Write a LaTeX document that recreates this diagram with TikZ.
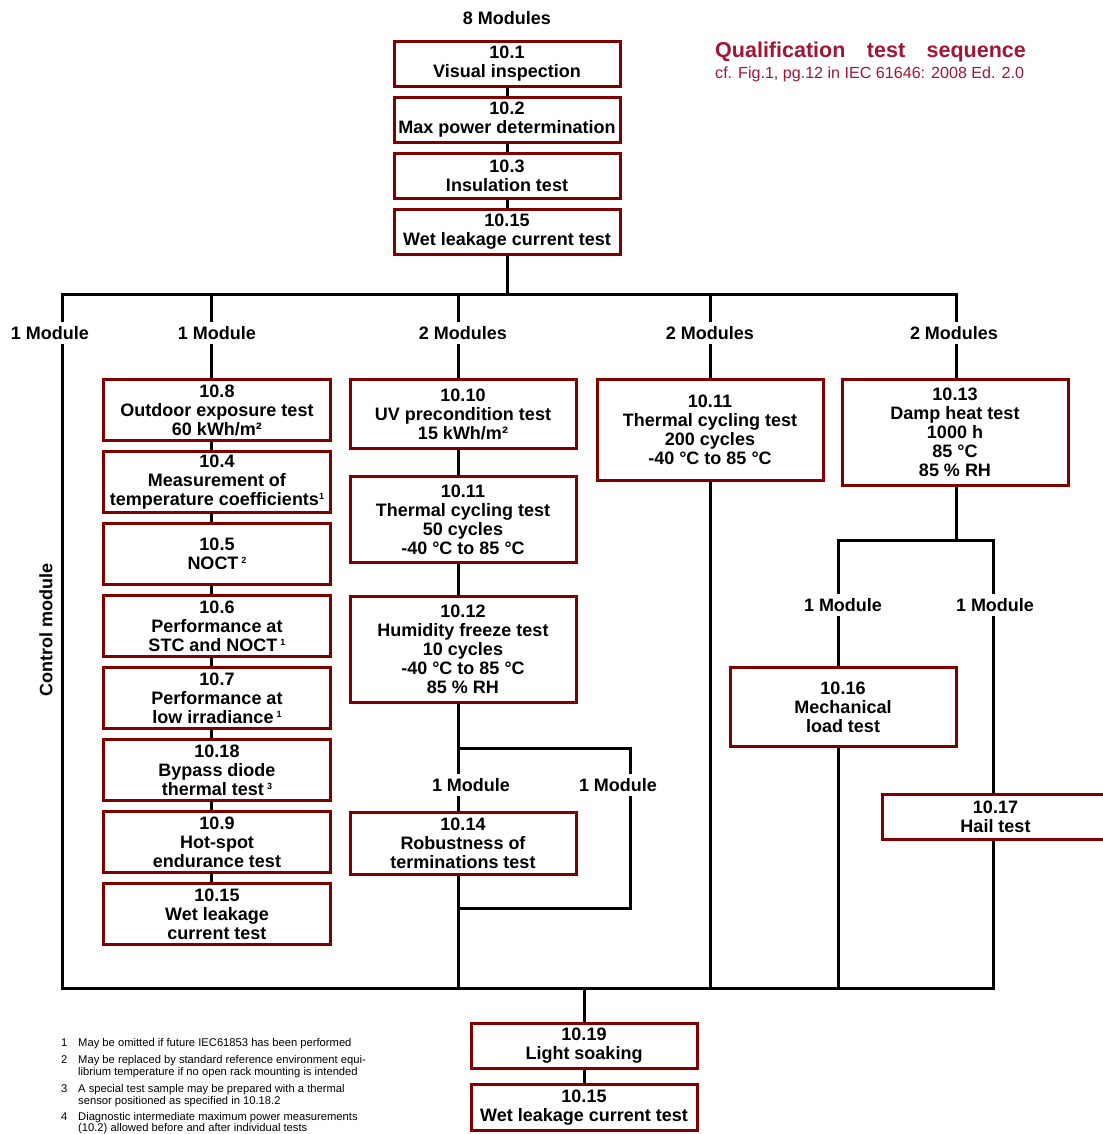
\documentclass[tikz,border=0pt]{standalone}
\usepackage{fontspec}
\setmainfont{Liberation Sans}
\usetikzlibrary{positioning,calc}
\pgfdeclarelayer{background}
\pgfsetlayers{background,main}
\definecolor{boxred}{RGB}{128,0,0}
\definecolor{titlered}{RGB}{160,22,52}
\newcommand{\refmark}[1]{\raisebox{6bp}{\fontsize{9bp}{9bp}\selectfont #1}}
\tikzset{
    testbox/.style={
        rectangle,
        draw=boxred, line width=3bp,
        fill=white,
        minimum width=226bp,
        inner sep=0pt,
        align=center,
        font={\fontsize{18bp}{19bp}\selectfont\bfseries}
    },
    modlabel/.style={
        fill=white, inner sep=4bp,
        font={\fontsize{18bp}{19bp}\selectfont\bfseries}
    },
    line/.style={draw, line width=3bp, line cap=rect},
    fnnum/.style={anchor=base west, inner sep=0pt,
        font={\fontsize{11.2bp}{12.5bp}\selectfont}},
    fntext/.style={anchor=base west, inner sep=0pt,
        font={\fontsize{11.2bp}{12.5bp}\selectfont}},
}

\begin{document}
\begin{tikzpicture}[x=1bp, y=-1bp]
\useasboundingbox (0,0) rectangle (1103,1134);

% title
\node[anchor=west, inner sep=0pt, text=titlered,
      font={\fontsize{21.5bp}{24bp}\selectfont\bfseries}] (title) at (715,52)
  {Qualification\quad test\quad sequence};
\node[anchor=west, inner sep=0pt, text=titlered,
      font={\fontsize{16.1bp}{18bp}\selectfont}] (subtitle) at (715,74)
  {cf. Fig.1, pg.12 in IEC 61646: 2008 Ed. 2.0};

% initial sequence
\node[modlabel] (all) at (507,18) {8 Modules};
\foreach \t/\n [count=\i] in {{10.1\\Visual inspection}/vis,
    {10.2\\Max power determination}/pmax,
    {10.3\\Insulation test}/insul,
    {10.15\\Wet leakage current test}/wet}
  \node[testbox, minimum height=45bp] (\n) at (507,{8+56*\i}) {\t};

% control module + sequence A
\foreach \t [count=\i] in {{10.8\\Outdoor exposure test\\60 kWh/m²},
    {10.4\\Measurement of\\temperature coefficients\refmark{1}},
    {10.5\\NOCT\,\refmark{2}},
    {10.6\\Performance at\\STC and NOCT\,\refmark{1}},
    {10.7\\Performance at\\low irradiance\,\refmark{1}},
    {10.18\\Bypass diode\\thermal test\,\refmark{3}},
    {10.9\\Hot-spot\\endurance test},
    {10.15\\Wet leakage\\current test}}
  \node[testbox, minimum height=61bp] (seq-\i) at (217,{338+72*\i}) {\t};

% sequence B
\node[testbox, minimum height=69bp] (uv) at (463,414)
  {10.10\\UV precondition test\\15 kWh/m²};
\node[testbox, minimum height=86bp] (tc50) at (463,519.5)
  {10.11\\Thermal cycling test\\50 cycles\\-40 °C to 85 °C};
\node[testbox, minimum height=106bp] (hf) at (463,649.5)
  {10.12\\Humidity freeze test\\10 cycles\\-40 °C to 85 °C\\85 \% RH};
\node[testbox, minimum height=62bp] (robust) at (463,843.5)
  {10.14\\Robustness of\\terminations test};

% sequence C
\node[testbox, minimum height=101bp] (tc200) at (710,430)
  {10.11\\Thermal cycling test\\200 cycles\\-40 °C to 85 °C};

% sequence D
\node[testbox, minimum height=106bp] (dh) at (955,432.5)
  {10.13\\Damp heat test\\1000 h\\85 °C\\85 \% RH};
\node[testbox, minimum height=79bp] (mech) at (843,707)
  {10.16\\Mechanical\\load test};
\node[testbox, minimum height=45bp] (hail) at (995.5,817)
  {10.17\\Hail test};

% final sequence
\node[testbox, minimum height=45bp] (soak) at (584,1046)
  {10.19\\Light soaking};
\node[testbox, minimum height=46bp] (wetend) at (584,1107.5)
  {10.15\\Wet leakage current test};

\begin{pgfonlayer}{background}
  \coordinate (bus-1) at (62,294);
  \coordinate (bus-2) at (211,294);
  \coordinate (bus-3) at (458,294);
  \coordinate (bus-4) at (710,294);
  \coordinate (bus-5) at (956,294);
  \coordinate (low-1) at (62,988);
  \coordinate (low-5) at (993,988);
  \coordinate (split-l) at (838,540);
  \coordinate (split-r) at (993,540);
  \coordinate (fork-l) at (458,748);
  \coordinate (fork-r) at (630,748);
  \coordinate (join-r) at (630,908);

  \draw[line] (vis.south) -- (vis.south |- bus-1);
  \draw[line] (bus-5) -- (bus-1) -- (low-1) -- (low-5) -- (split-r)
    -- (split-l) -- (split-l |- low-1);
  \draw[line] (bus-5) -- (bus-5 |- split-l);
  \draw[line] (bus-2) -- (bus-2 |- seq-8.north);
  \draw[line] (bus-3) -- (bus-3 |- low-1);
  \draw[line] (bus-4) -- (bus-4 |- low-1);
  \draw[line] (fork-l) -- (fork-r) -- (join-r) -- (join-r -| fork-l);
  \draw[line] (soak.north |- low-1) -- (wetend.north);
\end{pgfonlayer}

% module counts
\foreach \x/\t [count=\i] in {50/1 Module, 217/1 Module, 463/2 Modules,
    710/2 Modules, 954/2 Modules}
  \node[modlabel] (mod-\i) at (\x,333) {\t};
\node[modlabel] (mod-rob) at (471,785) {1 Module};
\node[modlabel] (mod-ret) at (618,785) {1 Module};
\node[modlabel] (mod-mech) at (843,605) {1 Module};
\node[modlabel] (mod-hail) at (995,605) {1 Module};
\node[modlabel, fill=none, rotate=90] (ctrl) at (46,630) {Control module};

% footnotes
\foreach \y/\n/\t in {1046/1/May be omitted if future IEC61853 has been performed,
    1063/2/May be replaced by standard reference environment equi-,
    1075.5//librium temperature if no open rack mounting is intended,
    1092/3/A special test sample may be prepared with a thermal,
    1104.5//sensor positioned as specified in 10.18.2,
    1120/4/Diagnostic intermediate maximum power measurements,
    1131//(10.2) allowed before and after individual tests}
{
  \node[fnnum] (fnn-\y) at (61,\y) {\n};
  \node[fntext] (fn-\y) at (78,\y) {\t};
}

\end{tikzpicture}
\end{document}
